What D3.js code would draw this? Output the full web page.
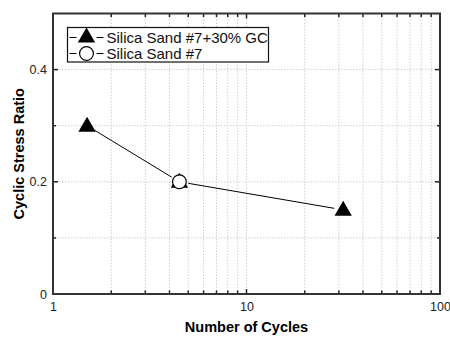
<!DOCTYPE html>
<html>
<head>
<meta charset="utf-8">
<script src="https://cdn.jsdelivr.net/npm/d3@7/dist/d3.min.js"></script>
<style>
  body { margin: 0; background: #fff; }
  text { font-family: "Liberation Sans", Arial, sans-serif; }
</style>
</head>
<body>
<div id="chart"></div>
<script>
// data
const gcCycles = [1.5, 4.5, 31.6];
const gcRatio = [0.3, 0.2, 0.15];
const sandCycles = [4.5];
const sandRatio = [0.2];
const seriesNames = ["Silica Sand #7+30% GC", "Silica Sand #7"];
const xTickLabels = [1, 10, 100];
const yTickLabels = [0, 0.2, 0.4];

const W = 450, H = 338;
const margin = {top: 13.5, right: 10, bottom: 44, left: 53};
const width = W - margin.left - margin.right;
const height = H - margin.top - margin.bottom;

const svg = d3.select('#chart').append('svg')
    .attr('width', W)
    .attr('height', H);

const g = svg.append('g')
    .attr('transform', `translate(${margin.left}, ${margin.top})`);

const x = d3.scaleLog().domain([1, 100]).range([0, width]);
const y = d3.scaleLinear().domain([0, 0.5]).range([height, 0]);

// minor log positions
const xMinor = [];
for (let d = 1; d < 100; d *= 10) {
    for (let k = 2; k <= 9; k++) xMinor.push(d * k);
}
const xAll = xMinor.concat([10]);
const yGrid = d3.range(0.1, 0.5, 0.1);

// grid
g.append('g').selectAll('line')
    .data(xAll)
    .enter().append('line')
    .attr('x1', d => x(d)).attr('x2', d => x(d))
    .attr('y1', 0).attr('y2', height)
    .attr('stroke', '#cfcfcf')
    .attr('stroke-width', 1)
    .attr('stroke-dasharray', '1.5,1.5');

g.append('g').selectAll('line')
    .data(yGrid)
    .enter().append('line')
    .attr('x1', 0).attr('x2', width)
    .attr('y1', d => y(d)).attr('y2', d => y(d))
    .attr('stroke', '#cfcfcf')
    .attr('stroke-width', 1)
    .attr('stroke-dasharray', '1.5,1.5');

// axes with inward ticks
const bottom = g.append('g')
    .attr('transform', `translate(0, ${height})`)
    .call(d3.axisBottom(x).tickValues(xTickLabels).tickFormat(d3.format('d')).tickSize(0).tickPadding(8));
const left = g.append('g')
    .call(d3.axisLeft(y).tickValues(yTickLabels).tickFormat(d => d === 0 ? '0' : d3.format('.1f')(d)).tickSize(0).tickPadding(6));
[bottom, left].forEach(a => {
    a.select('.domain').remove();
    a.selectAll('text').attr('font-size', 12.5).attr('fill', '#222')
        .style('font-family', '"Liberation Sans", Arial, sans-serif');
});

const tickG = g.append('g').attr('stroke', '#222').attr('stroke-width', 1.5);
const xTicks = xAll.map(d => ({v: d, len: d === 10 ? 5 : 3.5}));
xTicks.forEach(t => {
    tickG.append('line').attr('x1', x(t.v)).attr('x2', x(t.v)).attr('y1', height).attr('y2', height - t.len);
    tickG.append('line').attr('x1', x(t.v)).attr('x2', x(t.v)).attr('y1', 0).attr('y2', t.len);
});
yGrid.forEach(v => {
    const len = Math.abs(v - 0.2) < 1e-6 || Math.abs(v - 0.4) < 1e-6 ? 5 : 3;
    tickG.append('line').attr('x1', 0).attr('x2', len).attr('y1', y(v)).attr('y2', y(v));
    tickG.append('line').attr('x1', width).attr('x2', width - len).attr('y1', y(v)).attr('y2', y(v));
});

// frame
g.append('rect')
    .attr('x', 0).attr('y', 0)
    .attr('width', width).attr('height', height)
    .attr('fill', 'none')
    .attr('stroke', '#333')
    .attr('stroke-width', 2);

// line, shortened so it stops at marker edges
const pts = gcCycles.map((c, i) => [x(c), y(gcRatio[i])]);
const gap = 9;
for (let i = 0; i < pts.length - 1; i++) {
    const [x0, y0] = pts[i], [x1, y1] = pts[i + 1];
    const len = Math.hypot(x1 - x0, y1 - y0);
    const ux = (x1 - x0) / len, uy = (y1 - y0) / len;
    g.append('line')
        .attr('x1', x0 + ux * gap).attr('y1', y0 + uy * gap)
        .attr('x2', x1 - ux * gap).attr('y2', y1 - uy * gap)
        .attr('stroke', '#000').attr('stroke-width', 1);
}

const tri = d3.symbol().type(d3.symbolTriangle).size(130);
const circ = d3.symbol().type(d3.symbolCircle).size(150);

g.selectAll('.gc')
    .data(gcCycles)
    .enter().append('path')
    .attr('class', 'gc')
    .attr('d', tri)
    .attr('transform', (d, i) => `translate(${x(d)}, ${y(gcRatio[i]) + 1})`)
    .attr('fill', '#000');

g.selectAll('.sand')
    .data(sandCycles)
    .enter().append('path')
    .attr('class', 'sand')
    .attr('d', circ)
    .attr('transform', (d, i) => `translate(${x(d)}, ${y(sandRatio[i])})`)
    .attr('fill', '#fff')
    .attr('stroke', '#000')
    .attr('stroke-width', 1.2);

// legend
const leg = svg.append('g').attr('transform', 'translate(67.5, 27.5)');
leg.append('rect')
    .attr('width', 201).attr('height', 34.5)
    .attr('fill', '#fff')
    .attr('stroke', '#111')
    .attr('stroke-width', 1.2);

seriesNames.forEach((name, i) => {
    const cy = 10 + i * 16;
    leg.append('line').attr('x1', 2).attr('x2', 9).attr('y1', cy).attr('y2', cy).attr('stroke', '#000');
    leg.append('line').attr('x1', 29).attr('x2', 36).attr('y1', cy).attr('y2', cy).attr('stroke', '#000');
    if (i === 0) {
        leg.append('path').attr('d', tri).attr('transform', `translate(19, ${cy})`).attr('fill', '#000');
    } else {
        leg.append('path').attr('d', circ).attr('transform', `translate(19, ${cy})`)
            .attr('fill', '#fff').attr('stroke', '#000').attr('stroke-width', 1.2);
    }
    leg.append('text')
        .attr('x', 39).attr('y', cy + 5.5)
        .attr('font-size', 15)
        .attr('fill', '#111')
        .text(name);
});

// axis titles
svg.append('text')
    .attr('x', margin.left + width / 2)
    .attr('y', 332)
    .attr('text-anchor', 'middle')
    .attr('font-size', 14.5)
    .attr('font-weight', 'bold')
    .text('Number of Cycles');

svg.append('text')
    .attr('transform', `translate(24, ${margin.top + height / 2}) rotate(-90)`)
    .attr('text-anchor', 'middle')
    .attr('font-size', 14.5)
    .attr('font-weight', 'bold')
    .text('Cyclic Stress Ratio');
</script>
</body>
</html>
